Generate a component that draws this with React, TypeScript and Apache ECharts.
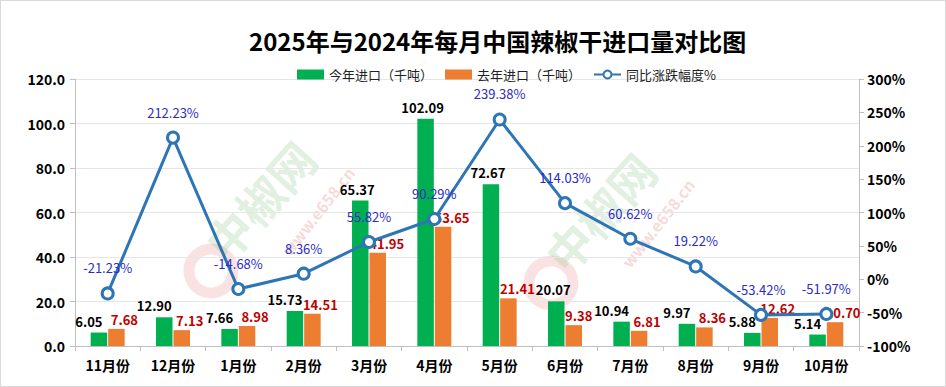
import React, { useEffect, useRef } from "react";
import * as echarts from "echarts";

const categories = ["11月份", "12月份", "1月份", "2月份", "3月份", "4月份", "5月份", "6月份", "7月份", "8月份", "9月份", "10月份"];
const thisYear = [6.05, 12.9, 7.66, 15.73, 65.37, 102.09, 72.67, 20.07, 10.94, 9.97, 5.88, 5.14];
const lastYear = [7.68, 7.13, 8.98, 14.51, 41.95, 53.65, 21.41, 9.38, 6.81, 8.36, 12.62, 10.7];
const yoyPct = [-21.23, 212.23, -14.68, 8.36, 55.82, 90.29, 239.38, 114.03, 60.62, 19.22, -53.42, -51.97];

const seriesNames = ["今年进口（千吨）", "去年进口（千吨）", "同比涨跌幅度%"];
const titleText = "2025年与2024年每月中国辣椒干进口量对比图";

const FONT = "'Noto Sans CJK SC', 'Noto Sans', sans-serif";

export default function App() {
  const ref = useRef<HTMLDivElement>(null);
  useEffect(() => {
    if (!ref.current) return;
    const chart = echarts.init(ref.current, null, { renderer: "svg" });
    const rot = (48 * Math.PI) / 180;
    const wm = (x: number, y: number) => [
      {
        type: "circle",
        shape: { cx: x - 2, cy: y + 20, r: 22 },
        style: { fill: "none", stroke: "rgba(230,110,110,0.2)", lineWidth: 11 },
        silent: true,
        z: 0,
      },
      {
        type: "text",
        x,
        y,
        rotation: rot,
        style: {
          text: "中椒网",
          fill: "rgba(120,190,120,0.24)",
          font: `bold 46px ${FONT}`,
          verticalAlign: "middle",
        },
        silent: true,
        z: 0,
      },
      {
        type: "text",
        x: x + 72,
        y: y + 2,
        rotation: (52 * Math.PI) / 180,
        style: {
          text: "www.e658.cn",
          fill: "rgba(230,120,120,0.28)",
          font: `bold 16px ${FONT}`,
          verticalAlign: "middle",
        },
        silent: true,
        z: 0,
      },
    ];
    // Push labels apart sideways when neighbouring bar labels sit at similar heights.
    const close = (i: number) => Math.abs(thisYear[i] - lastYear[i]) < 7;
    const nextNear = (i: number) =>
      i + 1 < thisYear.length && close(i + 1) && Math.abs(lastYear[i] - thisYear[i + 1]) < 8;
    const thisYearData = thisYear.map((v, i) => ({ value: v, label: { offset: [close(i) ? -10 : -3, 0] } }));
    const lastYearData = lastYear.map((v, i) => ({
      value: v,
      label: { offset: [close(i) ? 8 : nextNear(i) ? 5 : 9, 0] },
    }));

    chart.setOption({
      animation: false,
      textStyle: { fontFamily: FONT },
      title: {
        text: titleText,
        left: 243,
        top: 22,
        textStyle: { fontSize: 24, fontWeight: "bold", color: "#000", fontFamily: FONT },
      },
      graphic: [...wm(212, 250), ...wm(552, 262)],
      legend: {
        top: 62,
        left: 291,
        itemWidth: 27,
        itemHeight: 10,
        itemGap: 12,
        textStyle: { fontSize: 13, color: "#222", fontFamily: FONT },
        data: [
          { name: seriesNames[0], icon: "rect" },
          { name: seriesNames[1], icon: "rect" },
          { name: seriesNames[2] },
        ],
      },
      grid: { left: 74, right: 86, top: 78, bottom: 40, containLabel: false },
      xAxis: {
        type: "category",
        data: categories,
        axisLine: { lineStyle: { color: "#bfbfbf" } },
        axisTick: { show: true, lineStyle: { color: "#bfbfbf" } },
        axisLabel: { color: "#000", fontWeight: "bold", fontSize: 14, margin: 12, fontFamily: FONT },
      },
      yAxis: [
        {
          type: "value",
          min: 0,
          max: 120,
          interval: 20,
          axisLine: { show: true, lineStyle: { color: "#bfbfbf" } },
          axisTick: { show: true, lineStyle: { color: "#bfbfbf" } },
          splitLine: { lineStyle: { color: "#e6e6e6" } },
          axisLabel: {
            color: "#000",
            fontWeight: "bold",
            fontSize: 14,
            margin: 10,
            formatter: (v: number) => v.toFixed(1),
            fontFamily: FONT,
          },
        },
        {
          type: "value",
          min: -100,
          max: 300,
          interval: 50,
          axisLine: { show: true, lineStyle: { color: "#bfbfbf" } },
          axisTick: { show: true, lineStyle: { color: "#bfbfbf" } },
          splitLine: { show: false },
          axisLabel: { color: "#000", fontWeight: "bold", fontSize: 14, formatter: "{value}%", fontFamily: FONT },
        },
      ],
      series: [
        {
          name: seriesNames[0],
          type: "bar",
          data: thisYearData,
          yAxisIndex: 0,
          barGap: "6%",
          barCategoryGap: "48%",
          itemStyle: { color: "#00b050" },
          label: {
            show: true,
            position: "top",
            distance: 5,
            color: "#000",
            fontWeight: "bold",
            fontSize: 13,
            formatter: (p: any) => Number(p.value).toFixed(2),
            fontFamily: FONT,
          },
          z: 2,
        },
        {
          name: seriesNames[1],
          type: "bar",
          data: lastYearData,
          yAxisIndex: 0,
          itemStyle: { color: "#ed7d31" },
          label: {
            show: true,
            position: "top",
            distance: 3,
            color: "#c00000",
            fontWeight: "bold",
            fontSize: 13,
            formatter: (p: any) => Number(p.value).toFixed(2),
            fontFamily: FONT,
          },
          z: 2,
        },
        {
          name: seriesNames[2],
          type: "line",
          yAxisIndex: 1,
          data: yoyPct,
          symbol: "circle",
          symbolSize: 11,
          lineStyle: { color: "#2e75b6", width: 3 },
          itemStyle: { color: "#fff", borderColor: "#2e75b6", borderWidth: 3 },
          label: {
            show: true,
            position: "top",
            distance: 12,
            color: "#2b2bc8",
            fontSize: 13,
            formatter: (p: any) => Number(p.value).toFixed(2) + "%",
            fontFamily: FONT,
          },
          z: 5,
        },
      ],
    });
    return () => chart.dispose();
  }, []);
  return (
    <div
      style={{
        position: "fixed",
        left: 0,
        top: 0,
        width: 946,
        height: 387,
        boxSizing: "border-box",
        border: "1px solid #d9d9d9",
        background: "#fff",
      }}
    >
      <div ref={ref} style={{ width: 944, height: 385 }} />
    </div>
  );
}
